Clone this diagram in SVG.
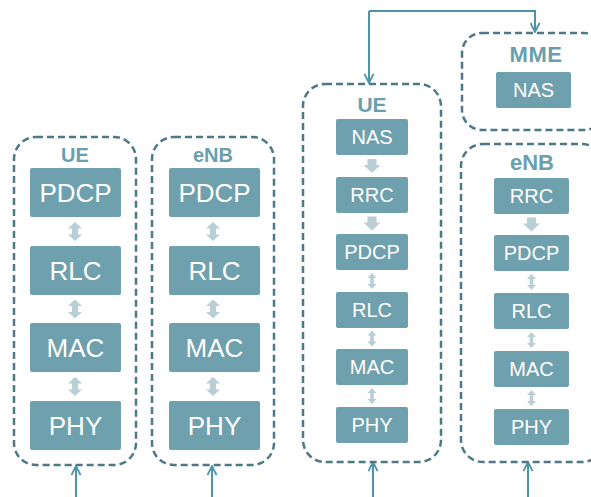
<svg xmlns="http://www.w3.org/2000/svg" width="591" height="497" viewBox="0 0 591 497">
  <defs>
    <style>
      .frame { fill: none; stroke: #4d7886; stroke-width: 2.5; stroke-dasharray: 7 4; }
      .box { fill: #6fa0ae; }
      .lbl { font-family: "Liberation Sans", Arial, sans-serif; font-weight: bold; fill: #6b9fae; text-anchor: middle; }
      .t1 { font-family: "Liberation Sans", Arial, sans-serif; font-size: 26px; fill: #ffffff; text-anchor: middle; }
      .t2 { font-family: "Liberation Sans", Arial, sans-serif; font-size: 20px; fill: #ffffff; text-anchor: middle; }
      .link { fill: none; stroke: #4f93a8; stroke-width: 2; }
      .sep { fill: #b9ced5; }
    </style>
    <marker id="open" viewBox="0 0 12 12" refX="11" refY="6" markerWidth="11" markerHeight="11" markerUnits="userSpaceOnUse" orient="auto">
      <path d="M1,1 L11,6 L1,11" fill="none" stroke="#4f93a8" stroke-width="2"/>
    </marker>
    <!-- large double arrow between layers (left stacks) -->
    <path id="dbl" d="M0,-9.5 L7,-3 L3,-3 L3,3 L7,3 L0,9.5 L-7,3 L-3,3 L-3,-3 L-7,-3 Z"/>
    <!-- small double arrow (right stacks) -->
    <path id="dbls" d="M0,-8 L4.5,-3 L1.8,-3 L1.8,3 L4.5,3 L0,8 L-4.5,3 L-1.8,3 L-1.8,-3 L-4.5,-3 Z"/>
    <!-- downward block arrow -->
    <path id="down" d="M-4.5,-7 L4.5,-7 L4.5,-1 L8.5,-1 L0,7 L-8.5,-1 L-4.5,-1 Z"/>
  </defs>

  <!-- connectors -->
  <g id="connectors">
    <path class="link" d="M369,11 L369,83" marker-end="url(#open)"/>
    <path class="link" d="M369,11 L535,11 L535,32" marker-end="url(#open)"/>
    <path class="link" d="M76,497 L76,466" marker-end="url(#open)"/>
    <path class="link" d="M212,497 L212,466" marker-end="url(#open)"/>
    <path class="link" d="M373,497 L373,462" marker-end="url(#open)"/>
    <path class="link" d="M528,497 L528,462" marker-end="url(#open)"/>
  </g>

  <!-- left UE stack -->
  <g id="ue-left">
    <rect class="frame" x="14" y="137" width="122" height="328" rx="22"/>
    <text class="lbl" x="75" y="162" font-size="20">UE</text>
    <rect class="box" x="30" y="168" width="91" height="49" rx="2"/>
    <text class="t1" x="75.5" y="201.5">PDCP</text>
    <rect class="box" x="30" y="246" width="91" height="49" rx="2"/>
    <text class="t1" x="75.5" y="279.5">RLC</text>
    <rect class="box" x="30" y="323" width="91" height="49" rx="2"/>
    <text class="t1" x="75.5" y="356.5">MAC</text>
    <rect class="box" x="30" y="401" width="91" height="49" rx="2"/>
    <text class="t1" x="75.5" y="434.5">PHY</text>
    <use href="#dbl" class="sep" x="75" y="231.5"/>
    <use href="#dbl" class="sep" x="75" y="309"/>
    <use href="#dbl" class="sep" x="75" y="386.5"/>
  </g>

  <!-- left eNB stack -->
  <g id="enb-left">
    <rect class="frame" x="152" y="137" width="122" height="328" rx="22"/>
    <text class="lbl" x="213" y="162" font-size="20">eNB</text>
    <rect class="box" x="169" y="168" width="91" height="49" rx="2"/>
    <text class="t1" x="214.5" y="201.5">PDCP</text>
    <rect class="box" x="169" y="246" width="91" height="49" rx="2"/>
    <text class="t1" x="214.5" y="279.5">RLC</text>
    <rect class="box" x="169" y="323" width="91" height="49" rx="2"/>
    <text class="t1" x="214.5" y="356.5">MAC</text>
    <rect class="box" x="169" y="401" width="91" height="49" rx="2"/>
    <text class="t1" x="214.5" y="434.5">PHY</text>
    <use href="#dbl" class="sep" x="213" y="231.5"/>
    <use href="#dbl" class="sep" x="213" y="309"/>
    <use href="#dbl" class="sep" x="213" y="386.5"/>
  </g>

  <!-- UE stack with NAS/RRC -->
  <g id="ue-right">
    <rect class="frame" x="303" y="84" width="138" height="378" rx="22"/>
    <text class="lbl" x="372" y="112" font-size="21">UE</text>
    <rect class="box" x="336" y="119" width="72" height="36" rx="2"/>
    <text class="t2" x="372" y="144">NAS</text>
    <rect class="box" x="336" y="177" width="72" height="36" rx="2"/>
    <text class="t2" x="372" y="202">RRC</text>
    <rect class="box" x="336" y="234" width="72" height="36" rx="2"/>
    <text class="t2" x="372" y="259">PDCP</text>
    <rect class="box" x="336" y="292" width="72" height="36" rx="2"/>
    <text class="t2" x="372" y="317">RLC</text>
    <rect class="box" x="336" y="349" width="72" height="36" rx="2"/>
    <text class="t2" x="372" y="374">MAC</text>
    <rect class="box" x="336" y="407" width="72" height="36" rx="2"/>
    <text class="t2" x="372" y="432">PHY</text>
    <use href="#down" class="sep" x="372" y="166"/>
    <use href="#down" class="sep" x="372" y="223.5"/>
    <use href="#dbls" class="sep" x="372" y="281"/>
    <use href="#dbls" class="sep" x="372" y="338.5"/>
    <use href="#dbls" class="sep" x="372" y="396"/>
  </g>

  <!-- MME -->
  <g id="mme">
    <rect class="frame" x="462" y="33" width="142" height="97" rx="20"/>
    <text class="lbl" x="536" y="62" font-size="22" letter-spacing="0.5">MME</text>
    <rect class="box" x="496" y="72" width="75" height="36" rx="2"/>
    <text class="t2" x="533.5" y="97">NAS</text>
  </g>

  <!-- eNB stack with RRC -->
  <g id="enb-right">
    <rect class="frame" x="461" y="144" width="143" height="318" rx="22"/>
    <text class="lbl" x="532" y="170" font-size="22">eNB</text>
    <rect class="box" x="494" y="178" width="75" height="36" rx="2"/>
    <text class="t2" x="531.5" y="203">RRC</text>
    <rect class="box" x="494" y="235" width="75" height="36" rx="2"/>
    <text class="t2" x="531.5" y="260">PDCP</text>
    <rect class="box" x="494" y="293" width="75" height="36" rx="2"/>
    <text class="t2" x="531.5" y="318">RLC</text>
    <rect class="box" x="494" y="351" width="75" height="36" rx="2"/>
    <text class="t2" x="531.5" y="376">MAC</text>
    <rect class="box" x="494" y="409" width="75" height="36" rx="2"/>
    <text class="t2" x="531.5" y="434">PHY</text>
    <use href="#down" class="sep" x="531.5" y="224.5"/>
    <use href="#dbls" class="sep" x="531.5" y="282"/>
    <use href="#dbls" class="sep" x="531.5" y="340"/>
    <use href="#dbls" class="sep" x="531.5" y="398"/>
  </g>
</svg>
